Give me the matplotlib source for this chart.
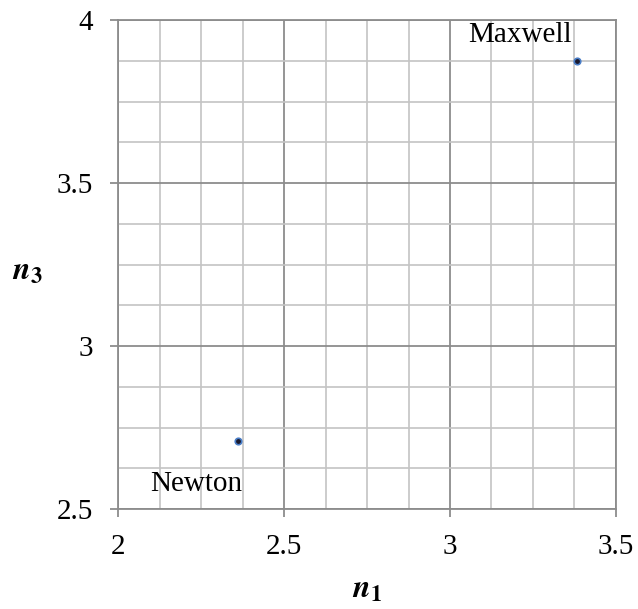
import matplotlib
matplotlib.use("Agg")
import matplotlib.pyplot as plt
from matplotlib.ticker import MultipleLocator

plt.rcParams['font.family'] = ['Liberation Serif', 'DejaVu Serif']
plt.rcParams['mathtext.fontset'] = 'stix'

names = ["Newton", "Maxwell"]
n1 = [2.362, 3.383]
n3 = [2.708, 3.874]
xticks = [2, 2.5, 3, 3.5]
yticks = [2.5, 3, 3.5, 4]

fig = plt.figure(figsize=(6.38, 6.09), dpi=100)
ax = fig.add_axes([0.185, 0.164, 0.7805, 0.803])
ax.set_xlim(2, 3.5)
ax.set_ylim(2.5, 4)
ax.set_xticks(xticks)
ax.set_yticks(yticks)
ax.set_xticklabels(["2", "2.5", "3", "3.5"])
ax.set_yticklabels(["2.5", "3", "3.5", "4"])
ax.xaxis.set_minor_locator(MultipleLocator(0.125))
ax.yaxis.set_minor_locator(MultipleLocator(0.125))
ax.grid(which='minor', color='#c4c4c4', linewidth=1.2)
ax.grid(which='major', color='#8c8c8c', linewidth=1.3)
ax.set_axisbelow(True)
for s in ax.spines.values():
    s.set_color('#8c8c8c')
    s.set_linewidth(1.3)
ax.tick_params(which='major', direction='out', length=6, width=1.3, color='#8c8c8c',
               labelsize=21, pad=12)
ax.tick_params(which='minor', length=0)

ax.scatter(n1, n3, s=22, facecolor='#1a1a2e', edgecolor='#4a7ec8', linewidth=1.2, zorder=3)

ax.annotate(names[0], (n1[0], n3[0]), xytext=(-30, -31), textcoords='offset points',
            fontsize=21, ha='center', va='center')
ax.annotate(names[1], (n1[1], n3[1]), xytext=(-41, 19), textcoords='offset points',
            fontsize=21, ha='center', va='center')

ax.set_xlabel(r'$\mathbfit{n}_{\mathbf{1}}$', fontsize=23, va='center')
ax.set_ylabel(r'$\mathbfit{n}_{\mathbf{3}}$', fontsize=23, rotation=0, ha='center', va='center')
ax.xaxis.set_label_coords(0.5, -0.166)
ax.yaxis.set_label_coords(-0.181, 0.485)

fig.savefig("out.png", dpi=100)
